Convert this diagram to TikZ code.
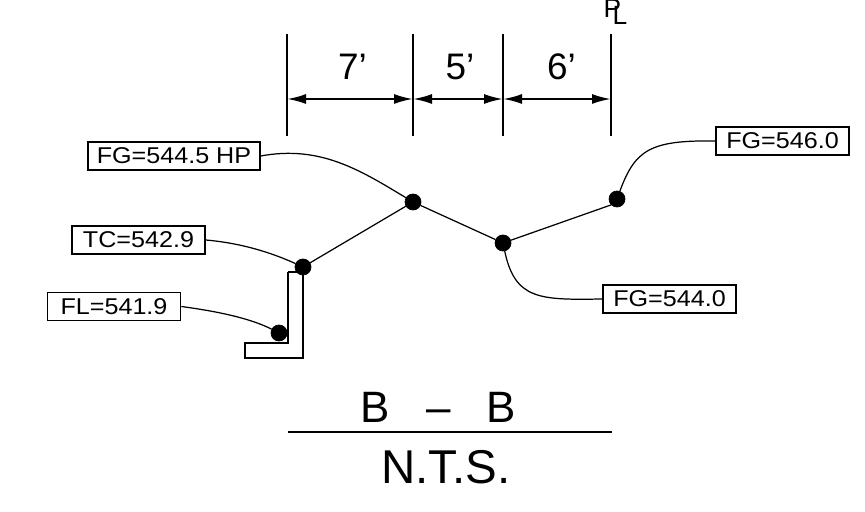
\documentclass[tikz,border=0pt]{standalone}
\usepackage{fontspec}
\setmainfont{Liberation Sans}
\newfontfamily\lblfont[FakeStretch=1.1]{Liberation Sans}
\usetikzlibrary{arrows.meta,calc,positioning}
\tikzset{
    gradept/.style={inner sep=0pt, minimum size=0.32cm, circle, draw=black, fill=black},
    lblbox/.style={draw=black, line width=0.9pt, inner sep=0pt, minimum width=2.66cm, minimum height=0.56cm, font=\lblfont\fontsize{13}{13}\selectfont},
    dimtxt/.style={font=\fontsize{21}{21}\selectfont},
    dimline/.style={line width=1.2pt, {Latex[length=0.38cm,width=0.2cm]}-{Latex[length=0.38cm,width=0.2cm]}},
    leader/.style={line width=0.7pt}
}
\begin{document}
\begin{tikzpicture}
    \useasboundingbox (0, 0) rectangle (17.3, 10.22);

    % grade points
    \node[gradept] (fl) at (5.58, 3.56) {};
    \node[gradept] (tc) at (6.06, 4.88) {};
    \node[gradept] (hp) at (8.26, 6.18) {};
    \node[gradept] (low) at (10.06, 5.36) {};
    \node[gradept] (back) at (12.34, 6.24) {};
    \draw[line width=0.7pt] (tc) -- (hp) -- (low) -- (back.south west);

    % curb
    \draw[line width=1pt] (5.76, 4.78) -- (5.76, 3.36) -- (4.9, 3.36) -- (4.9, 3.06)
        -- (6.06, 3.06) -- (tc.center) (5.76, 4.78) -- (6.06, 4.78);

    % labels
    \node[lblbox, minimum width=3.44cm] (lblhp) at (3.48, 7.1) {FG=544.5 HP};
    \node[lblbox] (lbltc) at (2.77, 5.42) {TC=542.9};
    \node[lblbox] (lblfl) at (2.28, 4.09) {FL=541.9};
    \node[lblbox] (lblback) at (15.65, 7.4) {FG=546.0};
    \node[lblbox] (lbllow) at (13.39, 4.24) {FG=544.0};
    \draw[leader] (lblhp.east) .. controls (6.4, 7.32) and (7.2, 6.82) .. (hp);
    \draw[leader] (lbltc.east) .. controls (4.8, 5.36) and (5.4, 5.18) .. (tc);
    \draw[leader] (lblfl.east) .. controls (4.3, 4.0) and (5, 3.86) .. (fl);
    \draw[leader] (lblback.west) .. controls (13, 7.42) and (12.7, 7.22) .. (back);
    \draw[leader] (lbllow.west) .. controls (10.8, 4.22) and (10.3, 4.22) .. (low);

    % dimensions
    \foreach \n/\x in {a/5.74, b/8.26, c/10.06, d/12.22} {
        \coordinate (top\n) at (\x, 9.54);
        \coordinate (bot\n) at (\x, 7.5);
        \coordinate (mid\n) at (\x, 8.24);
        \draw[line width=0.9pt] (top\n) -- (bot\n);
    }
    \draw[dimline] (mida) -- (midb);
    \draw[dimline] (midb) -- (midc);
    \draw[dimline] (midc) -- (midd);
    \node[dimtxt] (seven) at (7.05, 8.89) {7'};
    \node[dimtxt] (five) at (9.2, 8.89) {5'};
    \node[dimtxt] (six) at (11.23, 8.89) {6'};

    % property line
    \node[font=\fontsize{15}{15}\selectfont, inner sep=0pt] (plp) at (12.25, 10.05) {P};
    \node[font=\fontsize{15}{15}\selectfont, inner sep=0pt] (pll) at (12.4, 9.91) {L};

    % title
    \coordinate (rulel) at (5.76, 1.58);
    \coordinate (ruler) at (12.24, 1.58);
    \draw[line width=0.9pt] (rulel) -- (ruler);
    \node[font=\fontsize{25}{25}\selectfont, inner sep=0pt] (title) at (8.77, 2.08) {B\hspace{0.82em}--\hspace{0.82em}B};
    \node[font=\fontsize{27}{27}\selectfont, inner sep=0pt] (nts) at (8.92, 0.87) {N.T.S.};
\end{tikzpicture}
\end{document}
